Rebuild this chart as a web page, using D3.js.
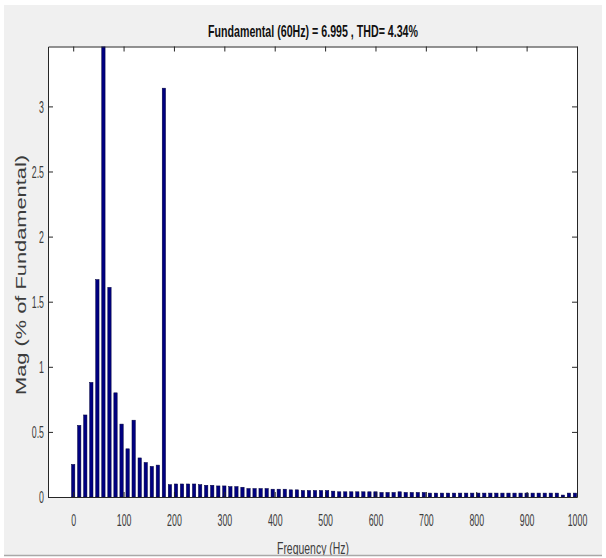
<!DOCTYPE html>
<html>
<head>
<meta charset="utf-8">
<script src="https://cdn.jsdelivr.net/npm/d3@7"></script>
<style>
  html, body { margin: 0; padding: 0; background: #ffffff; }
  svg { display: block; }
  text { font-family: "Liberation Sans", Arial, sans-serif; }
</style>
</head>
<body>
<svg id="chart" width="606" height="558"></svg>
<script>
// ---- data ----
const titleText = "Fundamental (60Hz) = 6.995 , THD= 4.34%";
const xLabel = "Frequency (Hz)";
const yLabel = "Mag (% of Fundamental)";
const freqStep = 12; // Hz spacing of spectral bins
const magnitudes = [
  0.25, 0.55, 0.63, 0.88, 1.67, 100, 1.61, 0.80, 0.56, 0.37,
  0.59, 0.30, 0.265, 0.235, 0.245, 3.14,
  0.095, 0.10, 0.10, 0.10, 0.10, 0.095, 0.09, 0.09, 0.085, 0.085,
  0.08, 0.08, 0.075, 0.065, 0.065, 0.065, 0.065, 0.06, 0.06, 0.06,
  0.055, 0.055, 0.05, 0.05, 0.05, 0.05, 0.05, 0.045, 0.04, 0.04,
  0.04, 0.04, 0.04, 0.04, 0.04, 0.035, 0.035, 0.035, 0.04, 0.035,
  0.035, 0.035, 0.035, 0.03, 0.03, 0.03, 0.03, 0.03, 0.03, 0.03,
  0.03, 0.03, 0.03, 0.03, 0.03, 0.03, 0.03, 0.03, 0.03, 0.03,
  0.03, 0.03, 0.03, 0.03, 0.03, 0.015, 0.03, 0.03
];
const frequencies = magnitudes.map((_, i) => i * freqStep);
const xTicks = [0, 100, 200, 300, 400, 500, 600, 700, 800, 900, 1000];
const yTicks = [0, 0.5, 1, 1.5, 2, 2.5, 3];
const xDomain = [-50, 1000];
const yDomain = [0, 3.46];

// ---- layout ----
const svg = d3.select("#chart");
const W = 606, H = 558;
const plot = { left: 48, right: 577, top: 46.5, bottom: 497 };
const axisColor = "#262626";
const textColor = "#3c3c3c";
const squeeze = 0.55;

svg.append("defs").append("clipPath").attr("id", "figclip")
  .append("rect").attr("x", 4).attr("y", 5).attr("width", 598).attr("height", 550);
svg.select("defs").append("clipPath").attr("id", "plotclip")
  .append("rect").attr("x", plot.left).attr("y", plot.top)
  .attr("width", plot.right - plot.left).attr("height", plot.bottom - plot.top);

const fig = svg.append("g").attr("clip-path", "url(#figclip)");
fig.append("rect").attr("x", 4).attr("y", 5).attr("width", 598).attr("height", 550).attr("fill", "#f0f0f0");
svg.append("line").attr("x1", 4).attr("x2", 602).attr("y1", 555.5).attr("y2", 555.5)
  .attr("stroke", "#a8a8a8").attr("stroke-width", 1.5);

fig.append("rect").attr("x", plot.left).attr("y", plot.top)
  .attr("width", plot.right - plot.left).attr("height", plot.bottom - plot.top)
  .attr("fill", "#ffffff");

const x = d3.scaleLinear().domain(xDomain).range([plot.left, plot.right]);
const y = d3.scaleLinear().domain(yDomain).range([plot.bottom, plot.top]);

// bars
const halfW = 3.3; // Hz
fig.append("g").attr("clip-path", "url(#plotclip)")
  .selectAll("rect").data(frequencies).join("rect")
  .attr("x", d => x(d - halfW))
  .attr("width", d => x(d + halfW) - x(d - halfW))
  .attr("y", (d, i) => y(magnitudes[i]))
  .attr("height", (d, i) => y(0) - y(magnitudes[i]))
  .attr("fill", "#000080")
  .attr("stroke", "#00003a")
  .attr("stroke-width", 0.5);

// squeeze helper: narrow glyphs like the reference
function squeezeText(sel, f) {
  sel.each(function () {
    const len = this.getComputedTextLength();
    d3.select(this).attr("textLength", len * f).attr("lengthAdjust", "spacingAndGlyphs");
  });
}

function styleAxis(g) {
  g.select(".domain").attr("stroke", axisColor);
  g.selectAll(".tick line").attr("stroke", axisColor);
}

// bottom axis (inward ticks)
const gx = fig.append("g").attr("transform", `translate(0,${plot.bottom})`)
  .call(d3.axisBottom(x).tickValues(xTicks).tickSizeInner(-5).tickSizeOuter(0).tickPadding(0).tickFormat(d3.format("d")));
styleAxis(gx);
gx.selectAll(".tick text").attr("y", 18).attr("dy", "0.71em")
  .attr("font-size", 16).attr("fill", textColor).attr("font-family", "Liberation Sans, Arial, sans-serif");
squeezeText(gx.selectAll(".tick text"), squeeze);

// top axis
const gxt = fig.append("g").attr("transform", `translate(0,${plot.top})`)
  .call(d3.axisTop(x).tickValues(xTicks).tickSizeInner(-5).tickSizeOuter(0).tickFormat(""));
styleAxis(gxt);

// left axis
const gy = fig.append("g").attr("transform", `translate(${plot.left},0)`)
  .call(d3.axisLeft(y).tickValues(yTicks).tickSizeInner(-5).tickSizeOuter(0).tickPadding(0).tickFormat(d => String(d)));
styleAxis(gy);
gy.selectAll(".tick text").attr("x", -4).attr("dy", "0.36em")
  .attr("font-size", 16).attr("fill", textColor).attr("font-family", "Liberation Sans, Arial, sans-serif");
squeezeText(gy.selectAll(".tick text"), squeeze);

// right axis
const gyr = fig.append("g").attr("transform", `translate(${plot.right},0)`)
  .call(d3.axisRight(y).tickValues(yTicks).tickSizeInner(-5).tickSizeOuter(0).tickFormat(""));
styleAxis(gyr);

// title
const t = fig.append("text").attr("x", 313).attr("y", 37)
  .attr("text-anchor", "middle").attr("font-size", 17).attr("font-weight", "bold")
  .attr("fill", "#111").text(titleText);
t.attr("textLength", 210).attr("lengthAdjust", "spacingAndGlyphs");

// x label
fig.append("text").attr("x", 313).attr("y", 554)
  .attr("text-anchor", "middle").attr("font-size", 17)
  .attr("fill", textColor).text(xLabel)
  .attr("textLength", 72).attr("lengthAdjust", "spacingAndGlyphs");

// y label
fig.append("text").attr("transform", "translate(26,275) rotate(-90)")
  .attr("text-anchor", "middle").attr("font-size", 14)
  .attr("fill", textColor).text(yLabel)
  .attr("textLength", 240).attr("lengthAdjust", "spacingAndGlyphs");
</script>
</body>
</html>
